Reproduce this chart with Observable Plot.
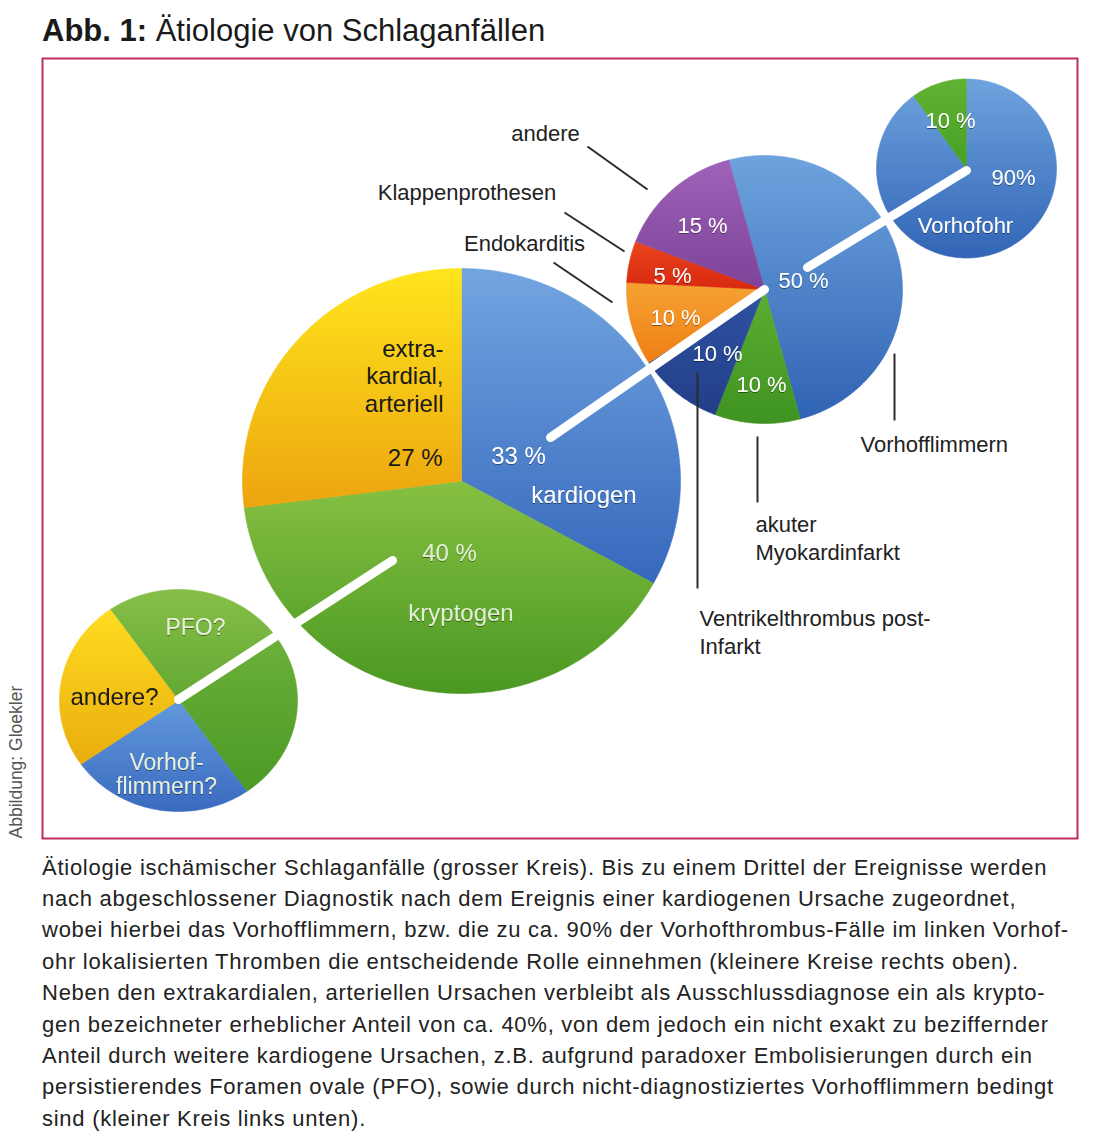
<!DOCTYPE html>
<html><head><meta charset="utf-8">
<script src="https://cdn.jsdelivr.net/npm/d3@7"></script>
<script src="https://cdn.jsdelivr.net/npm/@observablehq/plot@0.6"></script>
<style>
body{margin:0;background:#fff;width:1100px;height:1146px;position:relative;font-family:"Liberation Sans",Arial,sans-serif;overflow:hidden;}
#title{position:absolute;left:42px;top:15px;font-size:31px;line-height:31px;color:#1a1a1a;white-space:nowrap;}
#chart{position:absolute;left:0;top:52px;}
#caption{position:absolute;left:42px;top:851.5px;font-size:22px;letter-spacing:0.74px;line-height:31.4px;color:#222;}
#caption div{white-space:pre;}
</style></head><body>
<div id="title"><b>Abb. 1:</b> Ätiologie von Schlaganfällen</div>
<div id="chart"></div>
<div id="caption"></div>
<script>
// ---------- DATA ----------
const mainCategories = ["kardiogen", "kryptogen", "extrakardial, arteriell"];
const mainValues = [33, 40, 27];
const mainPercentLabels = ["33 %", "40 %", "27 %"];
const mainNameLabels = ["kardiogen", "kryptogen", "extra-\nkardial,\narteriell"];

const kardiogenCategories = ["Vorhofflimmern", "akuter Myokardinfarkt", "Ventrikelthrombus post-Infarkt", "Endokarditis", "Klappenprothesen", "andere"];
const kardiogenValues = [50, 10, 10, 10, 5, 15];
const kardiogenPercentLabels = ["50 %", "10 %", "10 %", "10 %", "5 %", "15 %"];
const kardiogenNameLabels = ["Vorhofflimmern", "akuter\nMyokardinfarkt", "Ventrikelthrombus post-\nInfarkt", "Endokarditis", "Klappenprothesen", "andere"];

const vorhofCategories = ["Vorhofohr", "übrige"];
const vorhofValues = [90, 10];
const vorhofPercentLabels = ["90%", "10 %"];
const vorhofNameLabels = ["Vorhofohr", ""];

const kryptoCategories = ["PFO?", "unklar", "Vorhofflimmern?", "andere?"];
const kryptoValues = [25, 25, 25, 25];
const kryptoNameLabels = ["PFO?", "", "Vorhof-\nflimmern?", "andere?"];

const captionLines = [
"Ätiologie ischämischer Schlaganfälle (grosser Kreis). Bis zu einem Drittel der Ereignisse werden",
"nach abgeschlossener Diagnostik nach dem Ereignis einer kardiogenen Ursache zugeordnet,",
"wobei hierbei das Vorhofflimmern, bzw. die zu ca. 90% der Vorhofthrombus-Fälle im linken Vorhof-",
"ohr lokalisierten Thromben die entscheidende Rolle einnehmen (kleinere Kreise rechts oben).",
"Neben den extrakardialen, arteriellen Ursachen verbleibt als Ausschlussdiagnose ein als krypto-",
"gen bezeichneter erheblicher Anteil von ca. 40%, von dem jedoch ein nicht exakt zu beziffernder",
"Anteil durch weitere kardiogene Ursachen, z.B. aufgrund paradoxer Embolisierungen durch ein",
"persistierendes Foramen ovale (PFO), sowie durch nicht-diagnostiziertes Vorhofflimmern bedingt",
"sind (kleiner Kreis links unten)."
];
const credit = "Abbildung: Gloekler";

// ---------- LAYOUT & STYLE ----------
const pieLayout = {
  main:      {cx: 461, cy: 480.5, rx: 219, ry: 212.5, start: 0},
  kardiogen: {cx: 764, cy: 289,   rx: 138, ry: 134,   start: -15},
  vorhof:    {cx: 966, cy: 168,   rx: 90,  ry: 89.5,  start: 0},
  krypto:    {cx: 178, cy: 700,   rx: 119, ry: 111,   start: -35}
};
const palette = {
  main: [["#72a5e0","#3668bd"], ["#86c042","#4a9822"], ["#ffe51c","#eca40f"]],
  kardiogen: [["#6ea3de","#2f63b4"], ["#5cae30","#3f9322"], ["#2f52a2","#223f88"], ["#f6a233","#ee7e15"], ["#ea451e","#d8280f"], ["#9e62b8","#7c4398"]],
  vorhof: [["#6ea3de","#3265b6"], ["#62b232","#45a024"]],
  krypto: [["#86bf48","#62a832"], ["#6cb03a","#4a9a24"], ["#6299dd","#3a6abf"], ["#ffdc22","#e9ad0c"]]
};
// label offsets relative to pie centres [dx, dy, anchor]
const mainPctPos  = [[57,-24.5,"middle"], [-12,72.5,"middle"], [-19,-23.5,"end"]];
const mainNamePos = [[122.5,14.5,"middle"], [-0.5,132.5,"middle"], [-18,-105.5,"end"]];
const kardiogenPctPos = [[39,-9], [-3,95], [-47,64], [-89,28], [-92,-14], [-62,-64]];
const vorhofPctPos = [[47,9], [-16,-48]];
const vorhofNamePos = [[-1,57]];
const kryptoNamePos = [[17,-73], null, [-12,74], [-64,-3]];
// outside labels (absolute) [x, y, anchor]
const kardiogenNamePos = [[860,443,"start"], [755,537,"start"], [699,631,"start"], [524,243,"middle"], [466.5,192,"middle"], [545,133,"middle"]];
const leaderLines = [[894,353,894,420],[757,436,757,502],[697,372,697,588],[553,262,612,302],[564,212,624,251],[587,146,647,189]];
const connectors = [[550,437,764,289],[807,267,966,170],[392,560,178,699]];

// ---------- BUILD ----------
const deg = Math.PI/180;
function slices(key, values) {
  const L = pieLayout[key];
  const arcs = d3.pie().sort(null).value(d => d)
    .startAngle(L.start*deg).endAngle(L.start*deg + 2*Math.PI)(values);
  return arcs.map((a, i) => {
    const n = Math.max(2, Math.ceil((a.endAngle - a.startAngle)/deg));
    const pts = [{x: L.cx, y: L.cy}];
    for (let k = 0; k <= n; k++) {
      const t = a.startAngle + (a.endAngle - a.startAngle)*k/n;
      pts.push({x: L.cx + L.rx*Math.sin(t), y: L.cy - L.ry*Math.cos(t)});
    }
    pts.push({x: L.cx, y: L.cy});
    return {id: `g-${key}-${i}`, pts};
  });
}
const allSlices = [
  ...slices("main", mainValues),
  ...slices("kardiogen", kardiogenValues),
  ...slices("vorhof", vorhofValues),
  ...slices("krypto", kryptoValues)
];

function defsMark() {
  const defs = d3.create("svg:defs");
  for (const key of Object.keys(palette)) {
    palette[key].forEach(([c0, c1], i) => {
      const g = defs.append("linearGradient").attr("id", `g-${key}-${i}`)
        .attr("x1", 0).attr("y1", 0).attr("x2", 0).attr("y2", 1);
      g.append("stop").attr("offset", "0%").attr("stop-color", c0);
      g.append("stop").attr("offset", "100%").attr("stop-color", c1);
    });
  }
  const f = defs.append("filter").attr("id", "tshadow").attr("x", "-20%").attr("y", "-30%").attr("width", "140%").attr("height", "160%");
  f.append("feDropShadow").attr("dx", 0).attr("dy", 1).attr("stdDeviation", 0.7)
    .attr("flood-color", "#000").attr("flood-opacity", 0.45);
  return defs.node();
}

function rel(key, pos, texts) {
  const L = pieLayout[key];
  const out = [];
  texts.forEach((t, i) => {
    const p = pos[i];
    if (!p || !t) return;
    out.push({x: L.cx + p[0], y: L.cy + p[1], text: t, anchor: p[2] || "middle"});
  });
  return out;
}

// label groups
const kardioWhite = [
  ...rel("kardiogen", kardiogenPctPos, kardiogenPercentLabels),
  ...rel("vorhof", vorhofPctPos, vorhofPercentLabels),
  ...rel("vorhof", vorhofNamePos, vorhofNameLabels)
];
const mainWhite = [
  ...rel("main", [mainPctPos[0]], [mainPercentLabels[0]]),
  ...rel("main", [mainNamePos[0]], [mainNameLabels[0]])
];
const mainPale = [
  ...rel("main", [mainPctPos[1]], [mainPercentLabels[1]]),
  ...rel("main", [mainNamePos[1]], [mainNameLabels[1]])
];
const kryptoPale = rel("krypto", kryptoNamePos, [kryptoNameLabels[0], null, kryptoNameLabels[2]]);
const mainDark = [
  ...rel("main", [mainPctPos[2]], [mainPercentLabels[2]]),
  ...rel("main", [mainNamePos[2]], [mainNameLabels[2]])
];
const kryptoDark = rel("krypto", kryptoNamePos, [null, null, null, kryptoNameLabels[3]]);
const outside = kardiogenNameLabels.map((t, i) => ({x: kardiogenNamePos[i][0], y: kardiogenNamePos[i][1], text: t, anchor: kardiogenNamePos[i][2]}));

const font = "Liberation Sans, Arial, Helvetica, sans-serif";
const T = (extra) => ({x: "x", y: "y", text: "text", fontFamily: font, ...extra});

const marks = [
  defsMark,
  ...allSlices.map(s => Plot.line(s.pts, {x: "x", y: "y", fill: `url(#${s.id})`, stroke: `url(#${s.id})`, strokeWidth: 0.6, curve: "linear"})),
  Plot.link(connectors, {x1: d => d[0], y1: d => d[1], x2: d => d[2], y2: d => d[3], stroke: "white", strokeWidth: 9, strokeLinecap: "round"}),
  Plot.link(leaderLines, {x1: d => d[0], y1: d => d[1], x2: d => d[2], y2: d => d[3], stroke: "#2b2b2b", strokeWidth: 2, strokeLinecap: "butt"}),
  Plot.text(kardioWhite, T({fill: "white", fontSize: 22, textAnchor: "middle", ariaDescription: "shadow"})),
  Plot.text(mainWhite, T({fill: "white", fontSize: 24, textAnchor: "middle", ariaDescription: "shadow"})),
  Plot.text(mainPale, T({fill: "#e2eed3", fontSize: 24, textAnchor: "middle", ariaDescription: "shadow"})),
  Plot.text(kryptoPale, T({fill: "#e6f0dc", fontSize: 23, lineHeight: 1.02, textAnchor: "middle", ariaDescription: "shadow"})),
  Plot.text(mainDark, T({fill: "#1a1a1a", fontSize: 24, lineHeight: 1.15, textAnchor: "end"})),
  Plot.text(kryptoDark, T({fill: "#1a1a1a", fontSize: 24, textAnchor: "middle"})),
  Plot.text(outside.filter(d => d.anchor === "start"), T({fill: "#222", fontSize: 22, lineHeight: 1.27, textAnchor: "start"})),
  Plot.text(outside.filter(d => d.anchor === "middle"), T({fill: "#222", fontSize: 22, textAnchor: "middle"})),
  Plot.text([{x: 16, y: 838, text: credit}], T({rotate: -90, textAnchor: "start", fill: "#555", fontSize: 17.5})),
  Plot.frame({stroke: "#bd2c63", strokeWidth: 2})
];

const chart = Plot.plot({
  width: 1100, height: 790,
  marginLeft: 42, marginRight: 23, marginTop: 6, marginBottom: 4,
  x: {domain: [42, 1077], range: [42, 1077], axis: null},
  y: {domain: [58, 838], range: [6, 786], axis: null},
  style: {fontFamily: font, background: "white", overflow: "visible"},
  marks
});
d3.select(chart).selectAll('[aria-description="shadow"]').attr("filter", "url(#tshadow)");
document.getElementById("chart").appendChild(chart);

const cap = d3.select("#caption");
captionLines.forEach(l => cap.append("div").text(l));
</script></body></html>
